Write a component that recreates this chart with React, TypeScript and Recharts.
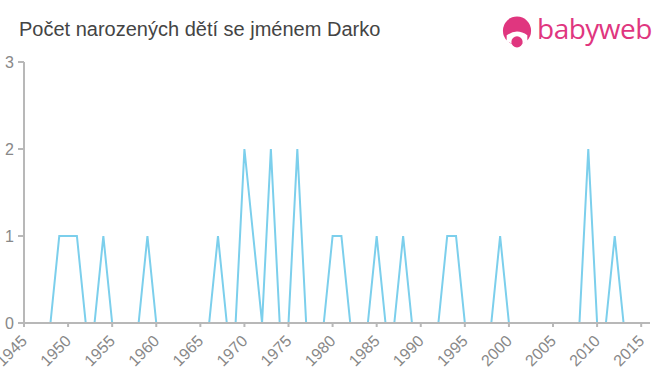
import React from 'react';
import { LineChart, Line, XAxis, YAxis } from 'recharts';

const years = [
  1945, 1946, 1947, 1948, 1949, 1950, 1951, 1952, 1953, 1954, 1955, 1956, 1957, 1958, 1959, 1960,
  1961, 1962, 1963, 1964, 1965, 1966, 1967, 1968, 1969, 1970, 1971, 1972, 1973, 1974, 1975, 1976,
  1977, 1978, 1979, 1980, 1981, 1982, 1983, 1984, 1985, 1986, 1987, 1988, 1989, 1990, 1991, 1992,
  1993, 1994, 1995, 1996, 1997, 1998, 1999, 2000, 2001, 2002, 2003, 2004, 2005, 2006, 2007, 2008,
  2009, 2010, 2011, 2012, 2013, 2014, 2015, 2016,
];
const births = [
  0, 0, 0, 0, 1, 1, 1, 0, 0, 1, 0, 0, 0, 0, 1, 0,
  0, 0, 0, 0, 0, 0, 1, 0, 0, 2, 1, 0, 2, 0, 0, 2,
  0, 0, 0, 1, 1, 0, 0, 0, 1, 0, 0, 1, 0, 0, 0, 0,
  1, 1, 0, 0, 0, 0, 1, 0, 0, 0, 0, 0, 0, 0, 0, 0,
  2, 0, 0, 1, 0, 0, 0, 0,
];
const xTicks = [1945, 1950, 1955, 1960, 1965, 1970, 1975, 1980, 1985, 1990, 1995, 2000, 2005, 2010, 2015];
const yTicks = [0, 1, 2, 3];

const data = years.map((year, i) => ({ year, count: births[i] }));

const FONT = '"Liberation Sans", Arial, sans-serif';
const AXIS = '#b8b8b8';

function XTick({ x, y, payload }: any) {
  const tx = x + 4;
  const ty = y + 13;
  return (
    <text
      x={tx}
      y={ty}
      transform={`rotate(-45, ${tx}, ${ty})`}
      textAnchor="end"
      fill="#888"
      fontSize={16}
      fontFamily={FONT}
    >
      {payload.value}
    </text>
  );
}

export default function App() {
  return (
    <div style={{ position: 'absolute', left: 0, top: 0, width: 660, height: 375, background: '#fff', fontFamily: FONT }}>
      <div style={{ position: 'absolute', left: 19, top: 18, fontSize: 20, lineHeight: '23px', color: '#444' }}>
        Počet narozených dětí se jménem Darko
      </div>
      {/* babyweb logo */}
      <svg style={{ position: 'absolute', left: 502, top: 16 }} width={30} height={33} viewBox="0 0 32 34">
        <circle cx={16} cy={15} r={15} fill="#e0367f" />
        <path d="M5 20 Q16 12 27 20 L27 26 Q16 34 5 26 Z" fill="#fff" />
        <circle cx={16} cy={27} r={6} fill="#e0367f" />
      </svg>
      <div style={{ position: 'absolute', left: 537, top: 9, fontSize: 28, lineHeight: '38px', fontWeight: 500, color: '#e0367f', fontFamily: '"Open Sans", sans-serif', letterSpacing: -0.5 }}>
        babyweb
      </div>
      <div style={{ position: 'absolute', left: 0, top: 0 }}>
        <LineChart width={660} height={375} data={data} margin={{ top: 62, right: 10, bottom: 7, left: 0 }}>
          <XAxis
            dataKey="year"
            type="number"
            domain={[1945, 2016]}
            ticks={xTicks}
            interval={0}
            height={45}
            stroke={AXIS}
            strokeWidth={2}
            tickSize={4}
            tick={<XTick />}
          />
          <YAxis
            type="number"
            domain={[0, 3]}
            ticks={yTicks}
            width={24}
            stroke={AXIS}
            strokeWidth={2}
            tickSize={6}
            tickMargin={4}
            tick={{ fill: '#888', fontSize: 16, fontFamily: FONT }}
          />
          <Line
            type="linear"
            dataKey="count"
            stroke="#7ccfec"
            strokeWidth={2}
            dot={false}
            isAnimationActive={false}
          />
        </LineChart>
      </div>
    </div>
  );
}
